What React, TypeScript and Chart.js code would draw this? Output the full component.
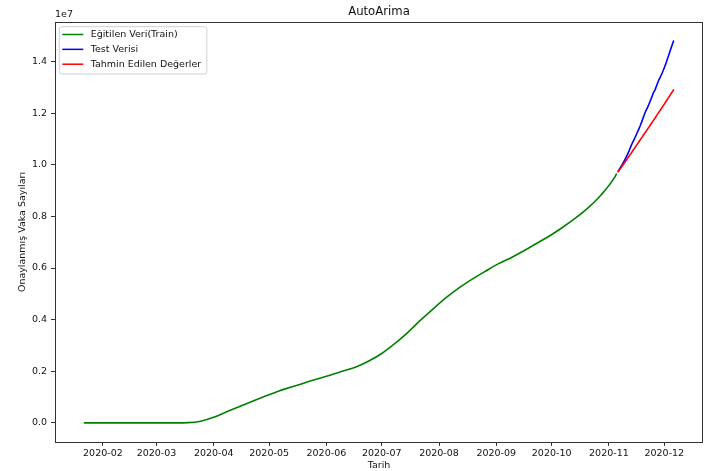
import React, { useEffect, useRef } from "react";
import { Chart, registerables } from "chart.js";

Chart.register(...registerables);

// Cumulative confirmed cases, in millions.
const trainDates = [
  "2020-01-22", "2020-01-29", "2020-02-05", "2020-02-12", "2020-02-19", "2020-02-26",
  "2020-03-04", "2020-03-11", "2020-03-18", "2020-03-25", "2020-04-01", "2020-04-08",
  "2020-04-15", "2020-04-22", "2020-04-29", "2020-05-06", "2020-05-13", "2020-05-20",
  "2020-05-27", "2020-06-03", "2020-06-10", "2020-06-17", "2020-06-24", "2020-07-01",
  "2020-07-08", "2020-07-15", "2020-07-22", "2020-07-29", "2020-08-05", "2020-08-12",
  "2020-08-19", "2020-08-26", "2020-09-02", "2020-09-09", "2020-09-16", "2020-09-23",
  "2020-09-30", "2020-10-07", "2020-10-14", "2020-10-21", "2020-10-28", "2020-11-04",
  "2020-11-05",
];
const trainCases = [
  0.000001, 0.000006, 0.000012, 0.000013, 0.000015, 0.00006,
  0.000158, 0.00128, 0.00937, 0.0656, 0.215, 0.431,
  0.637, 0.84, 1.04, 1.23, 1.39, 1.55,
  1.7, 1.85, 2.01, 2.17, 2.4, 2.69,
  3.07, 3.5, 3.98, 4.43, 4.86, 5.24,
  5.57, 5.87, 6.16, 6.4, 6.67, 6.96,
  7.25, 7.58, 7.94, 8.35, 8.85, 9.5,
  9.64,
];

const testDates = [
  "2020-11-06", "2020-11-07", "2020-11-08", "2020-11-09", "2020-11-10", "2020-11-11",
  "2020-11-12", "2020-11-13", "2020-11-14", "2020-11-15", "2020-11-16", "2020-11-17",
  "2020-11-18", "2020-11-19", "2020-11-20", "2020-11-21", "2020-11-22", "2020-11-23",
  "2020-11-24", "2020-11-25", "2020-11-26", "2020-11-27", "2020-11-28", "2020-11-29",
  "2020-11-30", "2020-12-01", "2020-12-02", "2020-12-03", "2020-12-04", "2020-12-05",
  "2020-12-06",
];
const testCases = [
  9.74, 9.87, 9.98, 10.11, 10.25, 10.39,
  10.55, 10.73, 10.89, 11.03, 11.19, 11.35,
  11.52, 11.71, 11.91, 12.09, 12.23, 12.4,
  12.58, 12.77, 12.9, 13.1, 13.28, 13.42,
  13.58, 13.76, 13.95, 14.16, 14.38, 14.59,
  14.79,
];
const forecastCases = [
  9.73, 9.83, 9.93, 10.03, 10.13, 10.24,
  10.34, 10.44, 10.55, 10.65, 10.76, 10.86,
  10.97, 11.07, 11.18, 11.28, 11.39, 11.49,
  11.6, 11.71, 11.81, 11.92, 12.03, 12.13,
  12.24, 12.35, 12.46, 12.57, 12.68, 12.79,
  12.9,
];

const monthTickDates = [
  "2020-02-01", "2020-03-01", "2020-04-01", "2020-05-01", "2020-06-01", "2020-07-01",
  "2020-08-01", "2020-09-01", "2020-10-01", "2020-11-01", "2020-12-01",
];
const monthTickLabels = [
  "2020-02", "2020-03", "2020-04", "2020-05", "2020-06", "2020-07",
  "2020-08", "2020-09", "2020-10", "2020-11", "2020-12",
];
const yTickValues = [0, 2, 4, 6, 8, 10, 12, 14];
const yTickLabels = ["0.0", "0.2", "0.4", "0.6", "0.8", "1.0", "1.2", "1.4"];

const TITLE = "AutoArima";
const X_TITLE = "Tarih";
const Y_TITLE = "Onaylanmış Vaka Sayıları";
const Y_OFFSET = "1e7";
const LABELS = ["Eğitilen Veri(Train)", "Test Verisi", "Tahmin Edilen Değerler"];

const FONT = "'DejaVu Sans', 'Liberation Sans', sans-serif";
const DAY = 86400000;
const EPOCH = Date.UTC(2020, 0, 1);
const dayOf = (s: string) => (Date.parse(s + "T00:00:00Z") - EPOCH) / DAY;

const toPoints = (dates: string[], vals: number[]) =>
  dates.map((d, i) => ({ x: dayOf(d), y: vals[i] }));

const overlay = {
  id: "mplOverlay",
  afterDraw(chart: any) {
    const { ctx, chartArea: a } = chart;
    ctx.save();

    // axes frame
    ctx.strokeStyle = "#333";
    ctx.lineWidth = 1;
    ctx.strokeRect(
      Math.round(a.left) + 0.5,
      Math.round(a.top) + 0.5,
      Math.round(a.right - a.left) - 1,
      Math.round(a.bottom - a.top)
    );

    const cx = (a.left + a.right) / 2;
    ctx.fillStyle = "#111";
    ctx.textBaseline = "middle";

    // title
    ctx.font = `11.7px ${FONT}`;
    ctx.textAlign = "center";
    ctx.fillText(TITLE, cx, 12);

    // axis titles and offset text
    ctx.font = `9.5px ${FONT}`;
    ctx.fillText(X_TITLE, cx, 465.5);
    ctx.textAlign = "left";
    ctx.fillText(Y_OFFSET, a.left, 15);
    ctx.save();
    ctx.translate(22.5, (a.top + a.bottom) / 2);
    ctx.rotate(-Math.PI / 2);
    ctx.textAlign = "center";
    ctx.fillText(Y_TITLE, 0, 0);
    ctx.restore();

    // legend in the upper-left corner of the plot
    const items = chart.data.datasets.map((d: any) => ({ label: d.label, color: d.borderColor }));
    const textW = Math.max(...items.map((it: any) => ctx.measureText(it.label).width));
    const bx = a.left + 4.3;
    const by = a.top + 4.7;
    const bw = 31.4 + textW + 5.6;
    const bh = 47.3;
    ctx.beginPath();
    ctx.roundRect(bx, by, bw, bh, 2.5);
    ctx.fillStyle = "rgba(255,255,255,0.8)";
    ctx.fill();
    ctx.strokeStyle = "#d0d0d0";
    ctx.lineWidth = 1;
    ctx.stroke();
    items.forEach((it: any, i: number) => {
      const y = by + 7.8 + i * 14.85;
      ctx.beginPath();
      ctx.moveTo(bx + 3, y);
      ctx.lineTo(bx + 24, y);
      ctx.strokeStyle = it.color;
      ctx.lineWidth = 1.5;
      ctx.stroke();
      ctx.fillStyle = "#111";
      ctx.textAlign = "left";
      ctx.fillText(it.label, bx + 31.4, y);
    });

    ctx.restore();
  },
};

export default function App() {
  const canvasRef = useRef<HTMLCanvasElement | null>(null);

  useEffect(() => {
    const canvas = canvasRef.current;
    if (!canvas) return;

    const trainPts = toPoints(trainDates, trainCases);
    const testPts = toPoints(testDates, testCases);
    const fcPts = toPoints(testDates, forecastCases);

    // 5% margins around the data, like matplotlib's autoscale
    const xs = [...trainPts, ...testPts].map((p) => p.x);
    const ys = [...trainCases, ...testCases, ...forecastCases];
    const xLo = Math.min(...xs), xHi = Math.max(...xs);
    const yLo = Math.min(...ys), yHi = Math.max(...ys);
    const xPad = (xHi - xLo) * 0.05;
    const yPad = (yHi - yLo) * 0.05;

    const monthTickDays = monthTickDates.map(dayOf);

    const tickFont = { family: FONT, size: 9.5 };
    const lineStyle = {
      borderWidth: 1.6,
      pointRadius: 0,
      borderCapStyle: "round" as const,
      borderJoinStyle: "round" as const,
    };

    const chart = new Chart(canvas, {
      type: "line",
      data: {
        datasets: [
          {
            label: LABELS[0],
            data: trainPts,
            borderColor: "#008000",
            cubicInterpolationMode: "monotone",
            order: 3,
            ...lineStyle,
          },
          {
            label: LABELS[1],
            data: testPts,
            borderColor: "#0000ff",
            tension: 0,
            order: 2,
            ...lineStyle,
          },
          {
            label: LABELS[2],
            data: fcPts,
            borderColor: "#ff0000",
            tension: 0,
            order: 1,
            ...lineStyle,
          },
        ],
      },
      options: {
        animation: false,
        responsive: false,
        devicePixelRatio: 1,
        layout: { padding: { left: 0, top: 22, right: 8, bottom: 0 } },
        plugins: {
          legend: { display: false },
          title: { display: false },
          tooltip: { enabled: false },
        },
        scales: {
          x: {
            type: "linear",
            min: xLo - xPad,
            max: xHi + xPad,
            border: { display: false },
            grid: {
              drawOnChartArea: false,
              drawTicks: true,
              tickLength: 4,
              color: "#333",
              lineWidth: 1,
            },
            ticks: {
              autoSkip: false,
              maxRotation: 0,
              minRotation: 0,
              padding: 2,
              color: "#111",
              font: tickFont,
              callback: (v: any) => {
                const i = monthTickDays.indexOf(Number(v));
                return i >= 0 ? monthTickLabels[i] : "";
              },
            },
            afterBuildTicks: (scale: any) => {
              scale.ticks = monthTickDays.map((v) => ({ value: v }));
            },
            afterFit: (scale: any) => {
              scale.height = 29;
            },
          },
          y: {
            type: "linear",
            min: yLo - yPad,
            max: yHi + yPad,
            border: { display: false },
            grid: {
              drawOnChartArea: false,
              drawTicks: true,
              tickLength: 4,
              color: "#333",
              lineWidth: 1,
            },
            ticks: {
              autoSkip: false,
              padding: 4,
              color: "#111",
              font: tickFont,
              callback: (v: any) => {
                const i = yTickValues.indexOf(Number(v));
                return i >= 0 ? yTickLabels[i] : "";
              },
            },
            afterBuildTicks: (scale: any) => {
              scale.ticks = yTickValues.map((v) => ({ value: v }));
            },
            afterFit: (scale: any) => {
              scale.width = 55;
            },
          },
        },
      },
      plugins: [overlay],
    });

    return () => chart.destroy();
  }, []);

  return (
    <div style={{ position: "fixed", left: 0, top: 0, width: 711, height: 471, background: "#fff" }}>
      <canvas ref={canvasRef} width={711} height={471} style={{ display: "block" }} />
    </div>
  );
}
